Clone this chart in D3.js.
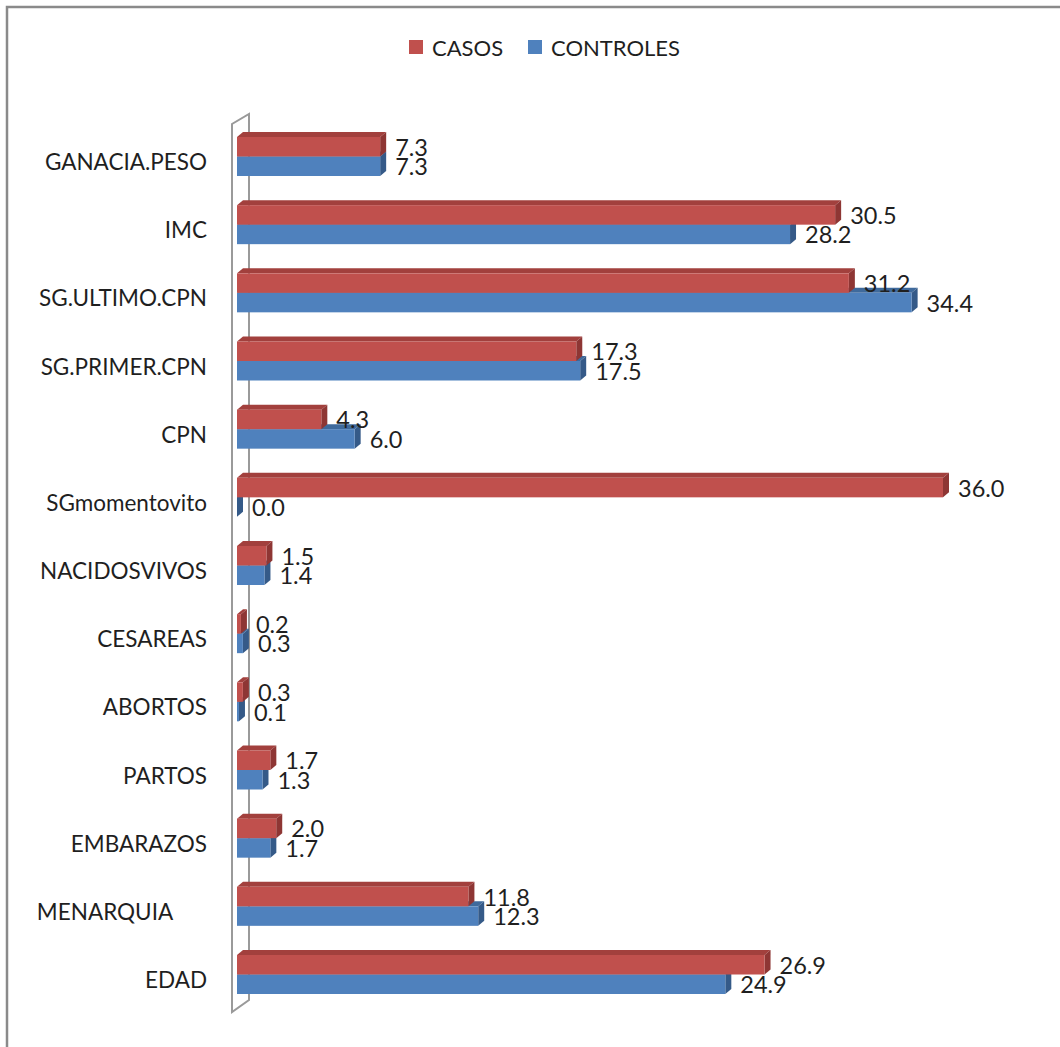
<!DOCTYPE html>
<html>
<head>
<meta charset="utf-8">
<script src="https://cdn.jsdelivr.net/npm/d3@7"></script>
<style>
  html, body { margin: 0; padding: 0; background: #fff; }
  svg text { font-family: Lato, "Liberation Sans", sans-serif; fill: #1f1f1f; white-space: pre; }
</style>
</head>
<body>
<svg id="chart" width="1060" height="1047"></svg>
<script>
// Categories, top to bottom
const categories = [
  "GANACIA.PESO", "IMC", "SG.ULTIMO.CPN", "SG.PRIMER.CPN", "CPN",
  "SGmomentovito", "NACIDOSVIVOS", "CESAREAS", "ABORTOS", "PARTOS",
  "EMBARAZOS", "MENARQUIA\u00a0\u00a0\u00a0\u00a0\u00a0\u00a0", "EDAD"
];
const casos      = [7.3, 30.5, 31.2, 17.3, 4.3, 36.0, 1.5, 0.2, 0.3, 1.7, 2.0, 11.8, 26.9];
const controles  = [7.3, 28.2, 34.4, 17.5, 6.0, 0.0, 1.4, 0.3, 0.1, 1.3, 1.7, 12.3, 24.9];
const seriesNames = ["CASOS", "CONTROLES"];

const svg = d3.select("#chart");

// chart frame
svg.append("rect")
  .attr("x", 7).attr("y", 7).attr("width", 1080).attr("height", 1080)
  .attr("fill", "#fff").attr("stroke", "#8a8a8a").attr("stroke-width", 2.5);

const x = d3.scaleLinear().domain([0, 36]).range([237, 943]);
const y = d3.scalePoint().domain(categories).range([156.5, 974.5]);
const barH = 19.5;
const dx = 6, dy = 5;   // depth offset of the 3D faces

// side wall behind the bars
const wallTop = 114, wallBottom = 1012;
svg.append("path")
  .attr("d", `M232,${wallBottom} L232,${wallTop + 10} L249,${wallTop} L249,${wallBottom - 12} Z`)
  .attr("fill", "#fff").attr("stroke", "#9a9a9a").attr("stroke-width", 2);

const colors = {
  CASOS:     { front: "#c0504d", top: "#a2403d", side: "#8e3634" },
  CONTROLES: { front: "#4f81bd", top: "#3f6a9c", side: "#355a88" }
};

const rows = categories.map((c, i) => ({ cat: c, casos: casos[i], controles: controles[i] }));

function drawBox(g, x0, x1, yTop, h, col) {
  // top face
  g.append("path")
    .attr("d", `M${x0},${yTop} L${x0 + dx},${yTop - dy} L${x1 + dx},${yTop - dy} L${x1},${yTop} Z`)
    .attr("fill", col.top);
  // side face
  g.append("path")
    .attr("d", `M${x1},${yTop} L${x1 + dx},${yTop - dy} L${x1 + dx},${yTop + h - dy} L${x1},${yTop + h} Z`)
    .attr("fill", col.side);
  // front face
  g.append("rect")
    .attr("x", x0).attr("y", yTop).attr("width", Math.max(0, x1 - x0)).attr("height", h)
    .attr("fill", col.front);
}

const bars = svg.append("g");
// lower series first, then the upper one in front of it
rows.forEach(d => {
  const c = y(d.cat);
  drawBox(bars, x(0), x(d.controles), c, barH, colors.CONTROLES);
  drawBox(bars, x(0), x(d.casos), c - barH, barH, colors.CASOS);
});

// category labels
svg.append("g").selectAll("text")
  .data(categories).join("text")
  .attr("x", 207).attr("y", d => y(d) + 5)
  .attr("text-anchor", "end").attr("dominant-baseline", "central")
  .attr("font-size", 22.5)
  .text(d => d);

// value labels
const lab = svg.append("g").attr("font-size", 23.5);
rows.forEach(d => {
  const c = y(d.cat);
  lab.append("text")
    .attr("x", x(d.casos) + 15).attr("y", c - barH / 2)
    .attr("dominant-baseline", "central").text(d3.format(".1f")(d.casos));
  lab.append("text")
    .attr("x", x(d.controles) + 15).attr("y", c + barH / 2)
    .attr("dominant-baseline", "central").text(d3.format(".1f")(d.controles));
});

// legend
const legend = svg.append("g");
const legendX = [409, 528];
seriesNames.forEach((name, i) => {
  legend.append("rect")
    .attr("x", legendX[i]).attr("y", 40).attr("width", 14).attr("height", 14)
    .attr("fill", colors[name].front);
  legend.append("text")
    .attr("x", legendX[i] + 23).attr("y", 47)
    .attr("dominant-baseline", "central").attr("font-size", 22)
    .text(name);
});
</script>
</body>
</html>
